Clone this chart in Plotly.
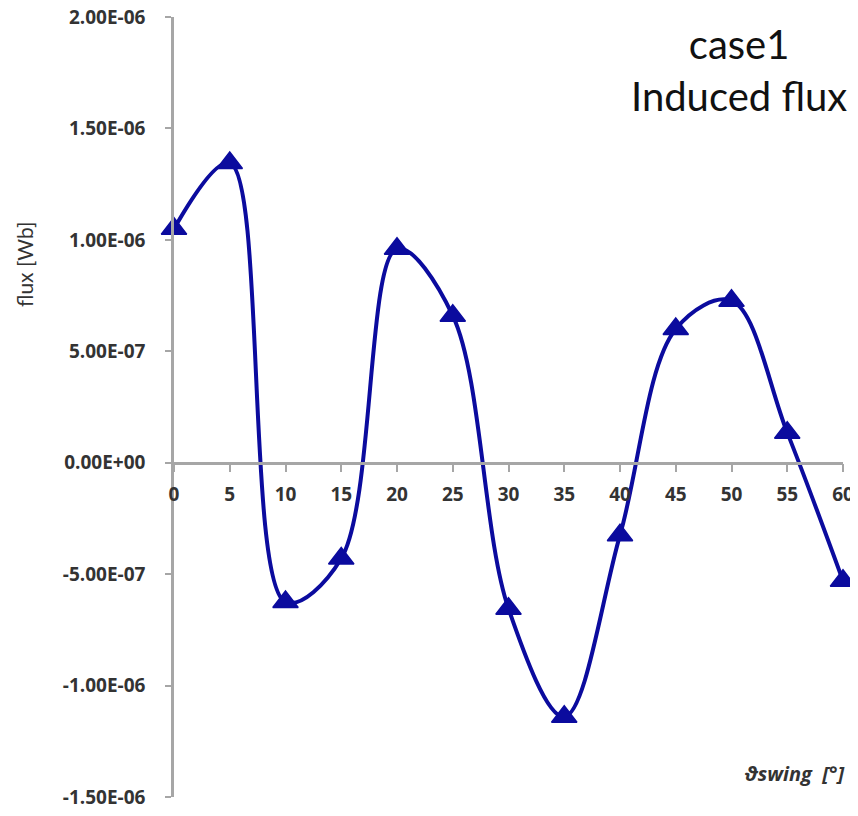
import plotly.graph_objects as go

angles = [0, 5, 10, 15, 20, 25, 30, 35, 40, 45, 50, 55, 60]
flux = [1.05e-6, 1.345e-6, -0.625e-6, -0.43e-6, 0.96e-6, 0.66e-6, -0.655e-6,
        -1.14e-6, -0.325e-6, 0.60e-6, 0.727e-6, 0.135e-6, -0.53e-6]
y_ticks = [-1.5e-6, -1.0e-6, -0.5e-6, 0.0, 0.5e-6, 1.0e-6, 1.5e-6, 2.0e-6]
y_tick_labels = ["-1.50E-06", "-1.00E-06", "-5.00E-07", "0.00E+00",
                 "5.00E-07", "1.00E-06", "1.50E-06", "2.00E-06"]
x_ticks = [0, 5, 10, 15, 20, 25, 30, 35, 40, 45, 50, 55, 60]

navy = "#0b0b9e"
axis_gray = "#a6a6a6"
label_color = "#333333"

# page body adds an 8px offset; figure is sized to fit the 858x816 window
OFF = 8
W, H = 858 - OFF, 816 - OFF
L = 174 - OFF
T = 17 - OFF
R = W - (843 - OFF)
B = H - (797 - OFF)

fig = go.Figure()
fig.add_trace(go.Scatter(
    x=angles, y=flux, mode="lines+markers",
    line=dict(color=navy, width=4, shape="spline", smoothing=1.0),
    marker=dict(symbol="triangle-up", size=22, color=navy, line=dict(color=navy, width=1.5)),
    cliponaxis=False, showlegend=False,
))

ymin, ymax = -1.5e-6, 2.0e-6
pw = W - L - R
ph = H - T - B


def px(x):
    return (x - OFF - L) / pw


def py(y):
    return (H - B - (y - OFF)) / ph


fig.update_layout(
    width=W, height=H,
    margin=dict(l=L, r=R, t=T, b=B, autoexpand=False),
    paper_bgcolor="white", plot_bgcolor="white",
    font=dict(family="Open Sans", color=label_color),
    xaxis=dict(
        range=[0, 60], tickvals=x_ticks, ticktext=[str(v) for v in x_ticks],
        showgrid=False, zeroline=False, showline=True, linecolor=axis_gray, linewidth=2.5,
        ticks="outside", ticklen=8, tickwidth=2, tickcolor=axis_gray,
        tickfont=dict(family="Open Sans", size=19, color=label_color, weight="bold"),
        anchor="free", position=(0 - ymin) / (ymax - ymin),
        ticklabelstandoff=6, automargin=False, ticklabeloverflow="allow",
    ),
    yaxis=dict(
        range=[ymin, ymax], tickvals=y_ticks, ticktext=y_tick_labels,
        showgrid=False, zeroline=False, showline=True, linecolor=axis_gray, linewidth=2.5,
        ticks="outside", ticklen=6, tickwidth=2, tickcolor=axis_gray,
        tickfont=dict(family="Open Sans", size=19, color=label_color, weight="bold"),
        ticklabelstandoff=16, automargin=False, ticklabeloverflow="allow",
    ),
    annotations=[
        dict(text="case1<br>Induced flux", x=px(739), y=py(70), xref="paper", yref="paper",
             xanchor="center", yanchor="middle",
             showarrow=False, font=dict(family="Lato", size=40, color="#111111"), align="center"),
        dict(text="<b><i>ϑswing  [°]</i></b>", x=px(794), y=py(773), xref="paper", yref="paper",
             xanchor="center", yanchor="middle",
             showarrow=False, font=dict(family="Open Sans", size=20, color=label_color)),
        dict(text="flux [Wb]", x=px(24), y=py(265), xref="paper", yref="paper",
             xanchor="center", yanchor="middle",
             showarrow=False, textangle=-90,
             font=dict(family="Lato", size=21, color=label_color)),
    ],
)

fig.write_html("out.html")
